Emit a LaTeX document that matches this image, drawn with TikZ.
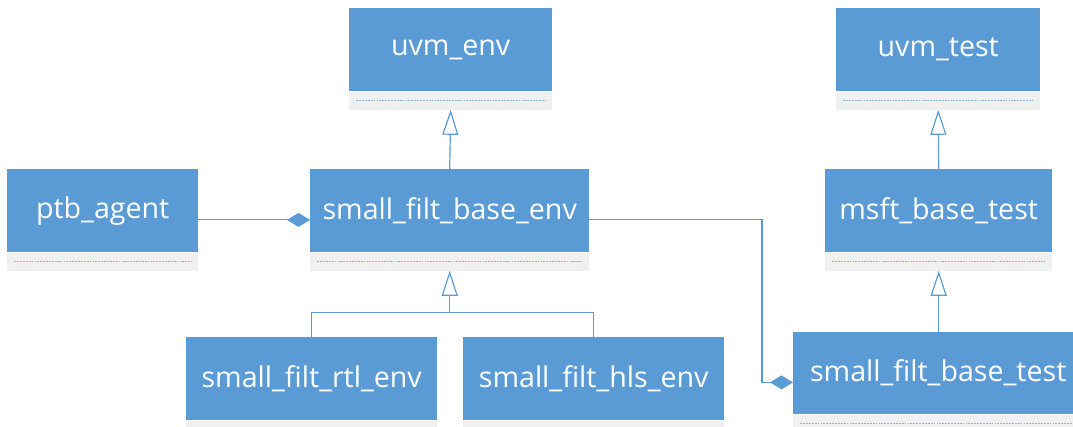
\documentclass[tikz,border=0pt]{standalone}
\usepackage{fontspec}
\setmainfont{Open Sans}
\usetikzlibrary{arrows.meta,calc}
\definecolor{clsblue}{HTML}{5B9BD5}
\definecolor{bandgrey}{HTML}{F0F0F0}
\definecolor{dashblue}{HTML}{8FB6E0}
\definecolor{lineblue}{HTML}{5B9BD5}
\tikzset{
  cls/.style={fill=clsblue, draw=none, text=white, inner sep=0pt, anchor=north west,
    minimum height=83pt, font=\fontsize{28.6}{32}\selectfont},
  band/.style={fill=bandgrey, draw=none, inner sep=0pt, anchor=north west, minimum height=18pt,
    path picture={\draw[dashblue, line width=1pt, dash pattern=on 1.8pt off 1.1pt]
      ([xshift=7pt]path picture bounding box.west) -- ([xshift=-7pt]path picture bounding box.east);}},
  conn/.style={draw=lineblue, line width=1.2pt},
  inh/.style={conn, -{Triangle[open, width=16pt, length=25pt, line width=1.2pt]}},
  comp/.style={conn, -{Diamond[width=14pt, length=23pt]}},
}
\begin{document}
\begin{tikzpicture}[x=1pt, y=-1pt]
\useasboundingbox (0,0) rectangle (1073,427);

% classes
\node[cls, minimum width=203pt] (uvmenv) at (349,8) {uvm\_env};
\node[band, minimum width=203pt] (uvmenvb) at (uvmenv.south west) {};

\node[cls, minimum width=204pt] (uvmtest) at (836,8) {uvm\_test};
\node[band, minimum width=204pt] (uvmtestb) at (uvmtest.south west) {};

\node[cls, minimum width=191pt] (ptb) at (7,169) {ptb\_agent};
\node[band, minimum width=191pt] (ptbb) at (ptb.south west) {};

\node[cls, minimum width=279pt] (env) at (310,169) {small\_filt\_base\_env};
\node[band, minimum width=279pt] (envb) at (env.south west) {};

\node[cls, minimum width=227pt] (msft) at (825,169) {msft\_base\_test};
\node[band, minimum width=227pt] (msftb) at (msft.south west) {};

\node[cls, minimum width=251pt] (rtl) at (186,337) {small\_filt\_rtl\_env};
\node[band, minimum width=251pt] (rtlb) at (rtl.south west) {};

\node[cls, minimum width=261pt] (hls) at (463,337) {small\_filt\_hls\_env};
\node[band, minimum width=261pt] (hlsb) at (hls.south west) {};

\node[cls, minimum width=290pt, minimum height=82pt] (sfbt) at (793,332) {small\_filt\_base\_test};
\node[band, minimum width=290pt] (sfbtb) at (sfbt.south west) {};

% generalisation
\draw[inh] (env.north) -- (uvmenvb.south);
\draw[inh] (msft.north) -- (uvmtestb.south);
\coordinate (join) at ($(envb.south)+(0,42)$);
\draw[conn] (rtl.north) |- (join) -| (hls.north);
\draw[inh] (join) -- (envb.south);
\draw[inh] (msftb.south |- sfbt.north) -- (msftb.south);

% composition
\coordinate (ptbmid) at ($(ptb.north east)!0.5!(ptbb.south east)$);
\coordinate (envwmid) at ($(env.north west)!0.5!(envb.south west)$);
\coordinate (envemid) at ($(env.north east)!0.5!(envb.south east)$);
\coordinate (sfbtmid) at ($(sfbt.north west)!0.5!(sfbtb.south west)$);
\coordinate (bend) at ($(sfbtmid)+(-31,0)$);
\draw[comp] (ptbmid) -- (envwmid);
\draw[comp] (envemid) -| (bend) -- (sfbtmid);
\end{tikzpicture}
\end{document}
